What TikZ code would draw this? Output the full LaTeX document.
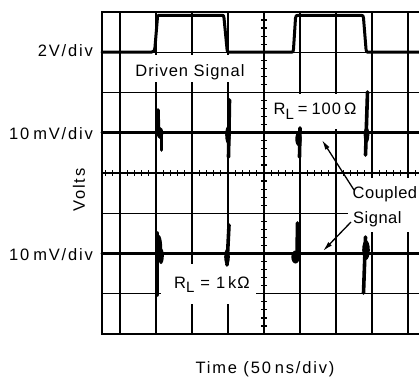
\documentclass[tikz,border=0pt]{standalone}
\usepackage{fontspec}
\setmainfont{Liberation Sans}[LetterSpace=11]
\newfontfamily\tightfont{Liberation Sans}[LetterSpace=3]
\newfontfamily\midfont{Liberation Sans}[LetterSpace=6]
\usetikzlibrary{arrows.meta}
\begin{document}
\begin{tikzpicture}[x=1pt,y=-1pt,
  gridline/.style={line width=1.2pt},
  frameline/.style={line width=2pt},
  trace/.style={line width=3pt, line join=round, line cap=round},
  spike/.style={line width=3.6pt, line cap=round},
  cover/.style={fill=white},
  lbl/.style={font=\fontsize{16.5}{20}\selectfont, inner sep=0pt},
  pointer/.style={line width=1.3pt, -{Latex[length=10pt,width=5pt]}}]
\useasboundingbox (0,0) rectangle (419,379);
% grid
\foreach \i in {0,...,8} \draw[gridline] (120+36*\i,12) -- (120+36*\i,334);
\foreach \j in {1,...,7} \draw[gridline] (102,12+40.25*\j) -- (419,12+40.25*\j);
\foreach \k in {-2,...,41} \draw[gridline] (120+7.2*\k,170) -- (120+7.2*\k,176);
\foreach \k in {1,...,39} \draw[gridline] (261,12+8.05*\k) -- (267,12+8.05*\k);
\draw[frameline] (419,12) -- (102,12) -- (102,334) -- (419,334);
% label covers
\fill[cover] (126,55) rectangle (258,82);
\fill[cover] (268,94) rectangle (361,129);
\fill[cover] (161,264) rectangle (256,304);
\fill[cover] (348,178) rectangle (419,232);
% driven signal
\draw[trace] (102,52.25) -- (151,52.25) .. controls (154,52.25) and (154.5,51) .. (155,47)
  -- (157.5,17) .. controls (157.8,15.3) .. (160,15.3) -- (222,15.3)
  .. controls (223.5,15.3) .. (224,18) -- (227,49) .. controls (227.4,52.25) .. (231,52.25)
  -- (291,52.25) .. controls (293,52.25) .. (293.5,49) -- (295.5,18)
  .. controls (296,15.3) .. (299,15.3) -- (361,15.3) .. controls (363,15.3) .. (363.5,18)
  -- (366,49) .. controls (366.5,52.25) .. (370,52.25) -- (419,52.25);
% coupled signal, R_L = 100 ohm
\draw[trace] (102,132.75) -- (419,132.75);
\draw[spike] (158,110) -- (158.5,134);
\draw[spike] (161.5,132) -- (161.5,150);
\fill (160,133) ellipse (3.2 and 6);
\draw[spike] (229.5,100) -- (228.5,157);
\fill (228,135) ellipse (2.8 and 9);
\draw[spike] (300,128) -- (299.5,157);
\fill (298.5,139) ellipse (3.2 and 7);
\draw[spike] (367.5,92) -- (365.5,155);
\fill (366.5,135) ellipse (2.8 and 8);
% coupled signal, R_L = 1 kohm
\draw[trace] (102,253.5) -- (419,253.5);
\draw[spike] (157,233) -- (157,295);
\fill (159,248) ellipse (3.2 and 13);
\fill (161,256) ellipse (2.8 and 8);
\draw[spike] (229,225) -- (227,265);
\fill (227,257) ellipse (2.8 and 8);
\draw[spike] (297.5,223) -- (297,258);
\fill (295.5,257) ellipse (4.2 and 6.5);
\draw[spike] (365.5,237) -- (363.5,293);
\fill (366,250) ellipse (3.8 and 10);
% labels
\node[lbl, anchor=base east] (v1) at (93,56.5) {2V/div};
\node[lbl, anchor=base east] (v2) at (93,140) {10\hspace{4pt}mV/div};
\node[lbl, anchor=base east] (v3) at (93,260) {10\hspace{4pt}mV/div};
\node[lbl, rotate=90] (volts) at (79,190) {Volts};
\node[lbl, anchor=base] (time) at (265,373) {Time (50\hspace{4pt}ns/div)};
\node[lbl, anchor=base] (driven) at (190,76.7) {\midfont Driven Signal};
\node[lbl, anchor=base] (r100) at (315,115) {\midfont R\raisebox{-4.5pt}{\fontsize{15}{15}\selectfont L}\hspace{4pt}=\hspace{4pt}100\hspace{3pt}Ω};
\node[lbl, anchor=base] (r1k) at (212,288) {\midfont R\raisebox{-4.5pt}{\fontsize{15}{15}\selectfont L}\hspace{6pt}=\hspace{6pt}1\hspace{3pt}kΩ};
\node[lbl, anchor=base west] (coupled) at (352.5,198.5) {\tightfont Coupled};
\node[lbl, anchor=base west] (signal) at (353,223) {\tightfont Signal};
% pointers
\coordinate (a1t) at (354,190);
\coordinate (a1h) at (322,140);
\draw[pointer] (a1t) -- (a1h);
\coordinate (a2t) at (351,222);
\coordinate (a2h) at (323,251);
\draw[pointer] (a2t) -- (a2h);
\end{tikzpicture}
\end{document}
